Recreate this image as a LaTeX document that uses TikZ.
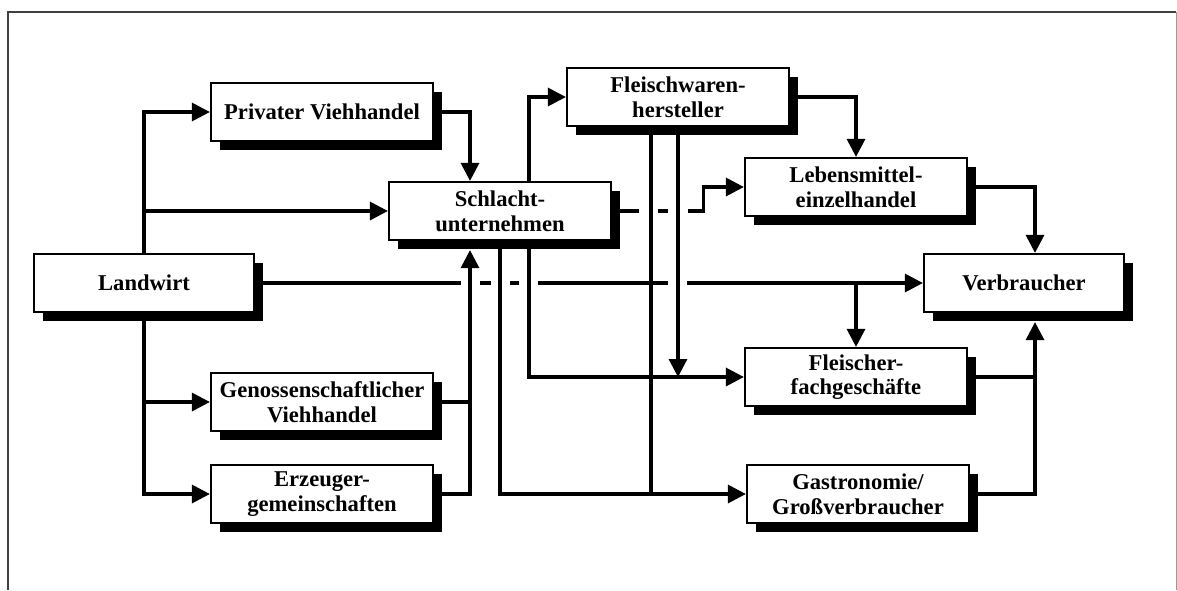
\documentclass[tikz,border=0pt]{standalone}
\usepackage{fontspec}
\setmainfont{Liberation Serif}
\usepackage{tikz}
\usetikzlibrary{shapes,arrows.meta}
\usetikzlibrary{calc}
\usetikzlibrary{shadows}
\tikzstyle{block} = [draw, fill=white, rectangle, line width=1.1pt,
    minimum height=29pt, minimum width=111pt, inner sep=0pt, align=center,
    font=\fontsize{11.3}{12.3}\selectfont\bfseries,
    drop shadow={shadow xshift=4.5pt, shadow yshift=-4.5pt, opacity=1, fill=black}]
\tikzstyle{line} = [draw, line width=1.6pt]
\tikzstyle{frame} = [draw, line width=1pt, black!75]

\begin{document}
\begin{tikzpicture}[x=0.5pt, y=-0.5pt, >={Triangle[length=9pt,width=9pt]}]
    \useasboundingbox (0,0) rectangle (1177,590);
    \draw [frame] (8,590) -- (8,12) -- (1176,12);
    \draw [frame, line width=0.5pt, black!40] (1176,12) -- (1176,590);

    \node [block, minimum width=110pt] (landwirt) at (144,283) {Landwirt};
    \node [block] (privat) at (322,112) {Privater Viehhandel};
    \node [block] (genossen) at (322,402) {Genossenschaftlicher\\Viehhandel};
    \node [block] (erzeuger) at (322,494) {Erzeuger-\\gemeinschaften};
    \node [block] (schlacht) at (500,211) {Schlacht-\\unternehmen};
    \node [block] (fleischwaren) at (678,97) {Fleischwaren-\\hersteller};
    \node [block] (lebensmittel) at (856,187) {Lebensmittel-\\einzelhandel};
    \node [block, minimum width=100pt] (verbraucher) at (1024,283) {Verbraucher};
    \node [block] (fleischer) at (856,377) {Fleischer-\\fachgeschäfte};
    \node [block] (gastro) at (858,494) {Gastronomie/\\Großverbraucher};

    \coordinate (schlachtin) at ($(schlacht.south)+(-30,9)$);
    \coordinate (schlachtout) at ($(schlacht.south)+(29,0)$);
    \coordinate (schlachtup) at ($(schlacht.north)+(29,0)$);
    \coordinate (fleischwarenout) at ($(fleischwaren.south)+(-27,0)$);
    \coordinate (verbrin) at ($(verbraucher.south)+(11,9)$);

    \draw [line,->] (landwirt.north) |- (privat.west);
    \draw [line,->] (landwirt.north |- schlacht.west) -- (schlacht.west);
    \draw [line,->] (landwirt.south) |- (genossen.west);
    \draw [line,->] (landwirt.south) |- (erzeuger.west);
    \draw [line,->] (privat.east) -| ($(schlacht.north)+(-30,0)$);
    \draw [line] (genossen.east) -- (genossen.east -| schlachtin);
    \draw [line,->] (erzeuger.east) -| (schlachtin);

    \draw [line,->] (schlachtup) |- (fleischwaren.west);
    \draw [line,->] (schlachtout) |- (fleischer.west);
    \draw [line,->] (schlacht.south) |- (gastro.west);
    \draw [line,->, dash pattern=on 13.5pt off 9.5pt on 5pt off 10pt on 200pt]
        (schlacht.east) -- ++(91,0) |- (lebensmittel.west);

    \draw [line,->] (fleischwaren.east) -| (lebensmittel.north);
    \draw [line,->] (fleischwaren.south) -- (fleischwaren.south |- fleischer.west);
    \draw [line] (fleischwarenout) -- (fleischwarenout |- gastro.west);

    \draw [line,->, dash pattern=on 103pt off 9.5pt on 5.5pt off 9.5pt on 4.5pt off 9.5pt on 65pt off 9.5pt on 300pt]
        (landwirt.east) -- (verbraucher.west);
    \draw [line,->] (landwirt.east -| fleischer.north) -- (fleischer.north);

    \draw [line,->] (lebensmittel.east) -| ($(verbraucher.north)+(11,0)$);
    \draw [line] (fleischer.east) -- (fleischer.east -| verbrin);
    \draw [line,->] (gastro.east) -| (verbrin);
\end{tikzpicture}
\end{document}
